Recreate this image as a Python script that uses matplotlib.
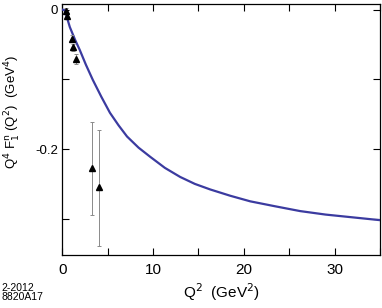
import numpy as np
import matplotlib.pyplot as plt
from matplotlib.ticker import MultipleLocator

plt.rcParams["font.family"] = ["Liberation Sans", "DejaVu Sans"]

# ── Data ──────────────────────────────────────────────────────────────
# measured points: Q^2 (GeV^2), Q^4 F1n (GeV^4), error
q2_data = [0.39, 0.53, 1.05, 1.16, 1.49, 3.29, 4.07]
f1_data = [-0.002, -0.009, -0.042, -0.054, -0.071, -0.227, -0.255]
err_lo = [0.004, 0.004, 0.005, 0.005, 0.007, 0.068, 0.084]
err_hi = [0.004, 0.004, 0.005, 0.005, 0.007, 0.066, 0.082]

# model curve
q2_curve = [0.0, 0.28, 0.83, 1.4, 1.93, 2.6, 3.37, 4.3, 5.25, 6.2, 7.13,
            8.4, 9.67, 11.3, 12.98, 14.6, 16.3, 18.5, 20.7, 23.4, 26.2,
            29.0, 32.0, 35.0]
f1_curve = [0.0, -0.001, -0.025, -0.043, -0.058, -0.079, -0.101, -0.125,
            -0.148, -0.166, -0.182, -0.198, -0.211, -0.227, -0.240, -0.250,
            -0.258, -0.267, -0.275, -0.282, -0.289, -0.294, -0.298, -0.302]

# ── Figure ────────────────────────────────────────────────────────────
fig = plt.figure(figsize=(3.82, 3.08), dpi=100)
ax = fig.add_axes([0.163, 0.172, 0.832, 0.815])

ax.plot(q2_curve, f1_curve, color="#3b3ba0", lw=1.6, zorder=3)
ax.errorbar(q2_data, f1_data, yerr=[err_lo, err_hi], fmt="none",
            ecolor="#8a8a8a", elinewidth=0.7, capsize=1.5, capthick=0.7, zorder=4)
ax.plot(q2_data, f1_data, "^", color="black", ms=5, zorder=5)

ax.set_xlim(0, 35)
ax.set_ylim(-0.352, 0.008)
ax.xaxis.set_major_locator(MultipleLocator(10))
ax.xaxis.set_minor_locator(MultipleLocator(5))
ax.set_yticks([0, -0.2])
ax.set_yticklabels(["0", "-0.2"])
ax.yaxis.set_minor_locator(MultipleLocator(0.1))
ax.tick_params(which="both", direction="in", top=True, right=True, width=0.8)
ax.tick_params(which="major", length=5, pad=6)
ax.tick_params(which="minor", length=5)
ax.tick_params(axis="x", labelsize=11)
ax.tick_params(axis="y", labelsize=9.5, pad=3)
for s in ax.spines.values():
    s.set_linewidth(0.9)

ax.set_xlabel(r"Q$^2$  (GeV$^2$)", fontsize=11, labelpad=3)
ax.set_ylabel(r"Q$^4$ F$_1^{\rm n}$ (Q$^2$)  (GeV$^4$)", fontsize=9.5)
ax.yaxis.set_label_coords(-0.125, 0.57)

fig.text(0.005, 0.025, "2-2012\n8820A17", fontsize=7.5, linespacing=0.95)

fig.savefig("out.png", dpi=100)
